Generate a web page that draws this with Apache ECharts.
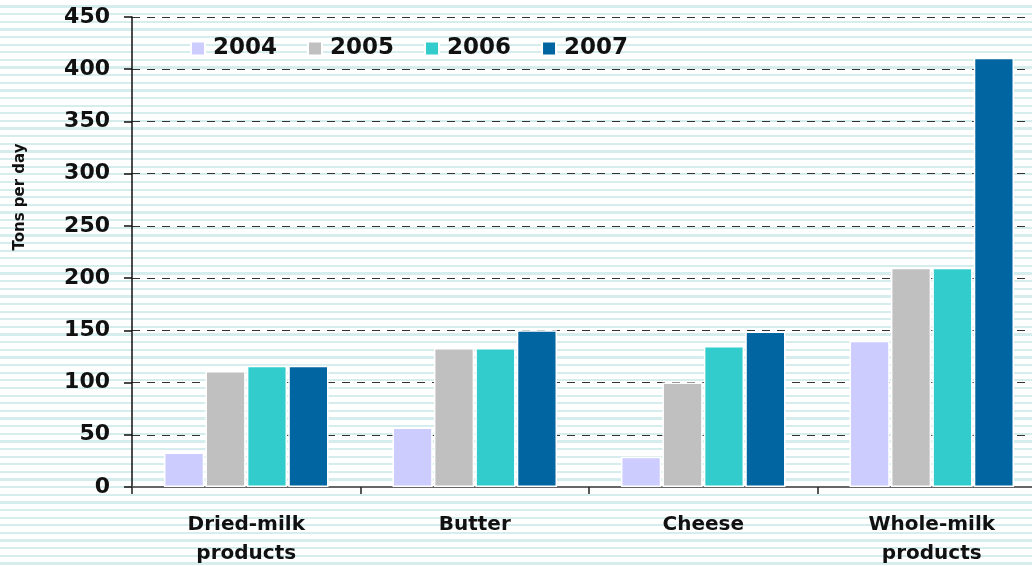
<!DOCTYPE html>
<html>
<head>
<meta charset="utf-8">
<title>Dairy production</title>
<script src="https://cdn.jsdelivr.net/npm/echarts@6/dist/echarts.min.js"></script>
<style>
  html, body { margin: 0; padding: 0; overflow: hidden; width: 1032px; height: 566px; }
  body {
    background-color: #ffffff;
    background-image: repeating-linear-gradient(to bottom,
      #ffffff 0px, #ffffff 5.4px, #d6edee 5.4px, #d6edee 7.63px);
  }
  /* the plot runs a little past the right edge of the window */
  #chart { width: 1046px; height: 566px; }
</style>
</head>
<body>
<div id="chart"></div>
<script>
// Product groups along the x axis
const categories = ['Dried-milk\nproducts', 'Butter', 'Cheese', 'Whole-milk\nproducts'];
// Yearly output, tons per day
const years = ['2004', '2005', '2006', '2007'];
const values2004 = [33, 57, 29, 140];
const values2005 = [111, 133, 100, 210];
const values2006 = [116, 133, 135, 210];
const values2007 = [116, 150, 149, 411];
const yearColors = ['#ccccff', '#c0c0c0', '#33cccc', '#0065a0'];
const yTicks = { min: 0, max: 450, interval: 50 };

const seriesValues = [values2004, values2005, values2006, values2007];
const FONT = '"DejaVu Sans", Verdana, sans-serif';

const chart = echarts.init(document.getElementById('chart'), null, { renderer: 'canvas' });

chart.setOption({
  backgroundColor: 'transparent',
  animation: false,
  grid: { left: 132, right: 0, top: 17, bottom: 79, containLabel: false, outerBoundsMode: 'none' },
  legend: {
    data: years,
    left: 185, top: 32,
    icon: 'rect', itemWidth: 14, itemHeight: 14, itemGap: 30,
    textStyle: { fontFamily: FONT, fontSize: 23, fontWeight: 'bold', color: '#111', padding: [0, 0, 0, 3] }
  },
  xAxis: {
    type: 'category',
    data: categories,
    boundaryGap: true,
    axisLine: { show: true, lineStyle: { color: '#666', width: 2 } },
    axisTick: { show: true, length: 7, alignWithLabel: false, lineStyle: { color: '#222', width: 1.5 } },
    axisLabel: {
      fontFamily: FONT, fontSize: 20, fontWeight: 'bold', color: '#111',
      lineHeight: 29, margin: 23, interval: 0
    }
  },
  yAxis: {
    type: 'value',
    min: yTicks.min, max: yTicks.max, interval: yTicks.interval,
    axisLine: { show: true, lineStyle: { color: '#111', width: 1.5 } },
    axisTick: { show: true, length: 8, lineStyle: { color: '#111', width: 1.5 } },
    axisLabel: { fontFamily: FONT, fontSize: 22, fontWeight: 'bold', color: '#111', margin: 22 },
    splitLine: { show: true, lineStyle: { color: '#333', width: 1.2, type: [8, 7] } }
  },
  graphic: [{
    type: 'text',
    x: 20, y: 197,
    rotation: Math.PI / 2,
    style: {
      text: 'Tons per day',
      font: 'bold 15px ' + FONT,
      fill: '#111',
      align: 'center',
      verticalAlign: 'middle'
    }
  }],
  series: years.map((year, i) => ({
    name: year,
    type: 'bar',
    data: seriesValues[i],
    barCategoryGap: '28%',
    barGap: '3%',
    itemStyle: { color: yearColors[i], borderColor: '#ffffff', borderWidth: 1.5 }
  }))
});
</script>
</body>
</html>
